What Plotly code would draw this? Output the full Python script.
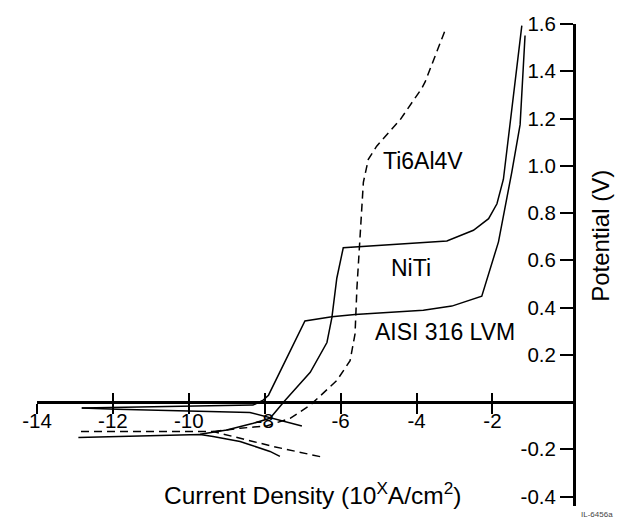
import plotly.graph_objects as go

FONT = "Liberation Sans, Arial, Helvetica, sans-serif"

# ---- data: log10 current density (A/cm^2) vs potential (V) ----
# NiTi (breakdown plateau ~0.67 V)
niti_cath_x = [-7.60, -7.86, -8.39, -8.65, -9.36, -9.70, -12.91]
niti_cath_y = [-0.230, -0.209, -0.181, -0.167, -0.146, -0.137, -0.150]
niti_anod_x = [-9.70, -9.00, -8.30, -7.86, -7.46, -6.80, -6.36, -6.23, -6.10, -5.93,
               -3.20, -2.50, -2.10, -1.88, -1.71, -1.225]
niti_anod_y = [-0.136, -0.118, -0.090, -0.069, 0.008, 0.126, 0.252, 0.357, 0.524, 0.653,
               0.682, 0.727, 0.776, 0.839, 0.943, 1.593]

# AISI 316 LVM (breakdown plateau ~0.38 V)
ss_cath_x = [-7.02, -7.77, -8.12, -8.39, -11.90, -12.82]
ss_cath_y = [-0.101, -0.069, -0.055, -0.044, -0.031, -0.025]
ss_anod_x = [-12.82, -8.31, -8.04, -7.90, -6.94, -6.23, -5.62, -3.82, -3.07, -2.28,
             -1.84, -1.49, -1.27, -1.14]
ss_anod_y = [-0.025, -0.013, 0.008, 0.029, 0.343, 0.361, 0.371, 0.388, 0.406, 0.448,
             0.678, 0.972, 1.174, 1.551]

# Ti6Al4V (dashed)
ti_cath_x = [-6.54, -7.78, -8.83, -9.35, -12.91]
ti_cath_y = [-0.231, -0.188, -0.146, -0.125, -0.125]
ti_anod_x = [-9.35, -8.65, -7.95, -7.33, -6.80, -6.10, -5.75, -5.62, -5.57, -5.44,
             -5.40, -5.27, -5.05, -4.43, -3.86, -3.77, -3.25]
ti_anod_y = [-0.125, -0.111, -0.101, -0.069, -0.013, 0.091, 0.175, 0.288, 0.482, 0.791,
             0.930, 1.027, 1.083, 1.195, 1.328, 1.356, 1.572]

x_tick_vals = [-14, -12, -10, -8, -6, -4, -2]
y_tick_vals = [-0.4, -0.2, 0.2, 0.4, 0.6, 0.8, 1.0, 1.2, 1.4, 1.6]
y_tick_text = ["-0.4", "-0.2", "0.2", "0.4", "0.6", "0.8", "1.0", "1.2", "1.4", "1.6"]

label_text = ["Ti6Al4V", "NiTi", "AISI 316 LVM"]
label_x = [-3.82, -4.15, -3.25]
label_y = [1.02, 0.566, 0.298]

X_RANGE = [-14, 0.15]
Y_RANGE = [-0.44, 1.6]

series = [
    ("NiTi", niti_cath_x, niti_cath_y, niti_anod_x, niti_anod_y, "solid"),
    ("AISI 316 LVM", ss_cath_x, ss_cath_y, ss_anod_x, ss_anod_y, "solid"),
    ("Ti6Al4V", ti_cath_x, ti_cath_y, ti_anod_x, ti_anod_y, "8px,5px"),
]

fig = go.Figure()
for name, cx, cy, ax_, ay, dash in series:
    for xs, ys in ((cx, cy), (ax_, ay)):
        fig.add_trace(go.Scatter(
            x=xs, y=ys, mode="lines", name=name, legendgroup=name,
            showlegend=False, line=dict(color="black", width=1.5, dash=dash),
            hoverinfo="x+y+name"))

# dummy trace to host the overlay axis that draws the upper half of the x ticks
fig.add_trace(go.Scatter(x=[X_RANGE[0]], y=[0], xaxis="x2", yaxis="y", mode="markers",
                         marker=dict(opacity=0), showlegend=False, hoverinfo="skip"))

zero_pos = (0 - Y_RANGE[0]) / (Y_RANGE[1] - Y_RANGE[0])

for t, xx, yy in zip(label_text, label_x, label_y):
    fig.add_annotation(x=xx, y=yy, xref="x", yref="y", text=t, showarrow=False,
                       font=dict(family=FONT, size=23, color="black"),
                       xanchor="center", yanchor="middle")

fig.add_annotation(x=0.513, y=0.025, xref="paper", yref="paper",
                   text="Current Density (10<sup>X</sup>A/cm<sup>2</sup>)",
                   showarrow=False, font=dict(family=FONT, size=24.5, color="black"),
                   xanchor="center", yanchor="middle")
fig.add_annotation(x=1.048, y=0.56, xref="paper", yref="paper",
                   text="Potential (V)", textangle=-90,
                   showarrow=False, font=dict(family=FONT, size=24, color="black"),
                   xanchor="center", yanchor="middle")
fig.add_annotation(x=1.043, y=-0.018, xref="paper", yref="paper",
                   text="IL-6456a", showarrow=False,
                   font=dict(family=FONT, size=8, color="#444444"),
                   xanchor="center", yanchor="middle")

fig.update_layout(
    width=622, height=520,
    margin=dict(l=37, r=48, t=20, b=14),
    paper_bgcolor="white", plot_bgcolor="white",
    showlegend=False,
    xaxis=dict(range=X_RANGE, anchor="free", position=zero_pos,
               showline=True, linewidth=3, linecolor="black",
               ticks="outside", ticklen=10, tickwidth=2, tickcolor="black",
               ticklabelstandoff=-11,
               tickvals=x_tick_vals, ticktext=[str(v) for v in x_tick_vals],
               tickfont=dict(family=FONT, size=20.5, color="black"),
               showgrid=False, zeroline=False),
    xaxis2=dict(range=X_RANGE, overlaying="x", anchor="free", position=zero_pos,
                showline=False, ticks="inside", ticklen=9, tickwidth=2,
                tickcolor="black", tickvals=x_tick_vals, showticklabels=False,
                showgrid=False, zeroline=False),
    yaxis=dict(range=Y_RANGE, side="left", anchor="free", position=1.0,
               showline=True, linewidth=3, linecolor="black",
               ticks="outside", ticklen=13, tickwidth=1.5, tickcolor="black",
               tickvals=y_tick_vals, ticktext=y_tick_text,
               tickfont=dict(family=FONT, size=20.5, color="black"),
               showgrid=False, zeroline=False),
)

fig.write_html("out.html")
